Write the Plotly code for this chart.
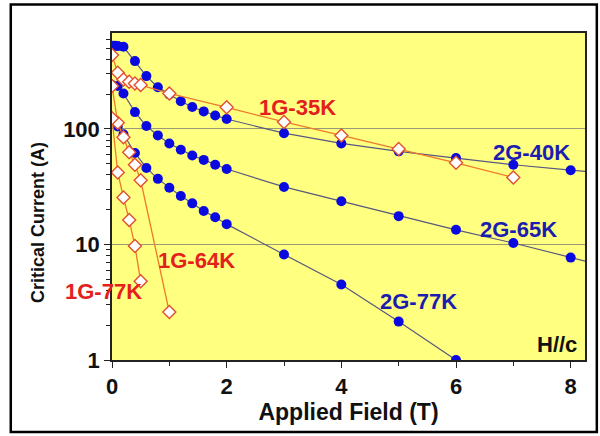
import plotly.graph_objects as go
import math

# ---- data ----
x_2g40 = [0, 0.05, 0.1, 0.2, 0.4, 0.6, 0.8, 1.0, 1.2, 1.4, 1.6, 1.8, 2, 3, 4, 5, 6, 7, 8, 9]
ic_2g40 = [525, 525, 522, 515, 387, 287, 230, 199, 174, 155, 142, 131, 122, 92, 75, 64, 56, 49, 44, 39.7]

x_2g65 = [0, 0.1, 0.2, 0.4, 0.6, 0.8, 1.0, 1.2, 1.4, 1.6, 1.8, 2, 3, 4, 5, 6, 7, 8, 9]
ic_2g65 = [240, 236, 203, 140, 106, 88, 75, 66, 59, 54, 49, 45, 31.5, 23.7, 17.6, 13.4, 10.3, 7.7, 5.8]

x_2g77 = [0, 0.1, 0.2, 0.4, 0.6, 0.8, 1.0, 1.2, 1.4, 1.6, 1.8, 2, 3, 4, 5, 6]
ic_2g77 = [120, 105, 90, 62, 46, 37, 31, 26.3, 22.7, 19.5, 17.2, 15, 8.2, 4.5, 2.15, 1.0]

x_1g35 = [0, 0.1, 0.2, 0.3, 0.4, 0.5, 1, 2, 3, 4, 5, 6, 7]
ic_1g35 = [437, 307, 268, 256, 248, 240, 203, 154, 115, 88, 67, 51, 38]

x_1g64 = [0, 0.1, 0.2, 0.3, 0.4, 0.5, 1.0]
ic_1g64 = [236, 113, 85, 63, 49, 36, 2.6]

x_1g77 = [0, 0.1, 0.2, 0.3, 0.4, 0.5]
ic_1g77 = [124, 42, 25.5, 16.3, 9.7, 4.8]

# labels: (text, x, y-value, colour)
labels = [
    ("1G-35K", 3.23, 155, "red"),
    ("2G-40K", 7.31, 63, "blue"),
    ("2G-65K", 7.09, 13.6, "blue"),
    ("2G-77K", 5.34, 3.24, "blue"),
    ("1G-64K", 1.48, 7.2, "red"),
    ("H//c", 7.76, 1.35, "black"),
]
label_outside = ("1G-77K", -0.018, 3.95, "red")   # x in paper units (left of the axis)

RED_TXT = "#e3201b"
BLUE_TXT = "#1c1cb0"
BLUE_DOT = "#0a0ae0"
LINE_2G = "#585880"
LINE_1G = "#ec7a2c"
DIAMOND_EDGE = "#e4502c"
FONT = "Liberation Sans, Arial, sans-serif"

fig = go.Figure()

for xs, ys in [(x_2g40, ic_2g40), (x_2g65, ic_2g65), (x_2g77, ic_2g77)]:
    fig.add_trace(go.Scatter(
        x=xs, y=ys, mode="lines+markers",
        line=dict(color=LINE_2G, width=1.2),
        marker=dict(symbol="circle", size=10, color=BLUE_DOT, line=dict(width=0)),
        showlegend=False,
    ))

for xs, ys in [(x_1g35, ic_1g35), (x_1g64, ic_1g64), (x_1g77, ic_1g77)]:
    fig.add_trace(go.Scatter(
        x=xs, y=ys, mode="lines+markers",
        line=dict(color=LINE_1G, width=1.3),
        marker=dict(symbol="diamond", size=10, color="white",
                    line=dict(width=1.4, color=DIAMOND_EDGE)),
        showlegend=False,
    ))

colmap = {"red": RED_TXT, "blue": BLUE_TXT, "black": "#111111"}
for text, x, y, c in labels:
    fig.add_annotation(
        x=x, y=math.log10(y), xref="x", yref="y", text=f"<b>{text}</b>",
        showarrow=False, font=dict(family=FONT, size=22, color=colmap[c]),
        xanchor="center", yanchor="middle",
    )
t, x, y, c = label_outside
fig.add_annotation(
    x=x, y=math.log10(y), xref="paper", yref="y", text=f"<b>{t}</b>",
    showarrow=False, font=dict(family=FONT, size=22, color=colmap[c]),
    xanchor="center", yanchor="middle",
)

# y-axis title as a rotated annotation (placed like the reference)
fig.add_annotation(
    x=-0.158, y=0.42, xref="paper", yref="paper",
    text="<b>Critical Current (A)</b>", textangle=-90, showarrow=False,
    font=dict(family=FONT, size=18, color="#111111"),
    xanchor="center", yanchor="middle",
)

# outer black frame
fig.add_shape(type="rect", xref="paper", yref="paper",
              x0=-0.214, x1=1.025, y0=-0.220, y1=1.087,
              line=dict(color="black", width=2.5), fillcolor="rgba(0,0,0,0)",
              layer="above")

fig.update_layout(
    width=600, height=436,
    margin=dict(l=112, r=15, t=33, b=76),
    paper_bgcolor="white",
    plot_bgcolor="#ffff80",
    font=dict(family=FONT, color="#111111"),
    xaxis=dict(
        range=[0, 8.25],
        tickvals=[0, 2, 4, 6, 8], ticktext=["<b>0</b>", "<b>2</b>", "<b>4</b>", "<b>6</b>", "<b>8</b>"],
        showgrid=False, zeroline=False,
        showline=True, linecolor="#222222", linewidth=1.5, mirror=True,
        ticks="outside", ticklen=6, tickwidth=1.2, tickcolor="#222222",
        minor=dict(tickvals=[1, 3, 5, 7], ticks="outside", ticklen=4, tickcolor="#222222", showgrid=False),
        tickfont=dict(family=FONT, size=22, color="#111111"),
        title=dict(text="<b>Applied Field (T)</b>", font=dict(family=FONT, size=23, color="#111111"), standoff=2),
    ),
    yaxis=dict(
        type="log", range=[0, 2.831],
        tickvals=[1, 10, 100], ticktext=["<b>1</b>", "<b>10</b>", "<b>100</b>"],
        showgrid=True, gridcolor="#9a9a78", gridwidth=1.2, zeroline=False,
        showline=True, linecolor="#222222", linewidth=1.5, mirror=True,
        ticks="outside", ticklen=6, tickwidth=1.2, tickcolor="#222222",
        minor=dict(dtick="D1", ticks="outside", ticklen=4, tickcolor="#222222", showgrid=False),
        tickfont=dict(family=FONT, size=22, color="#111111"),
    ),
)

fig.write_html("out.html", post_script="document.body.style.margin='0';",
               config={"displayModeBar": False})
